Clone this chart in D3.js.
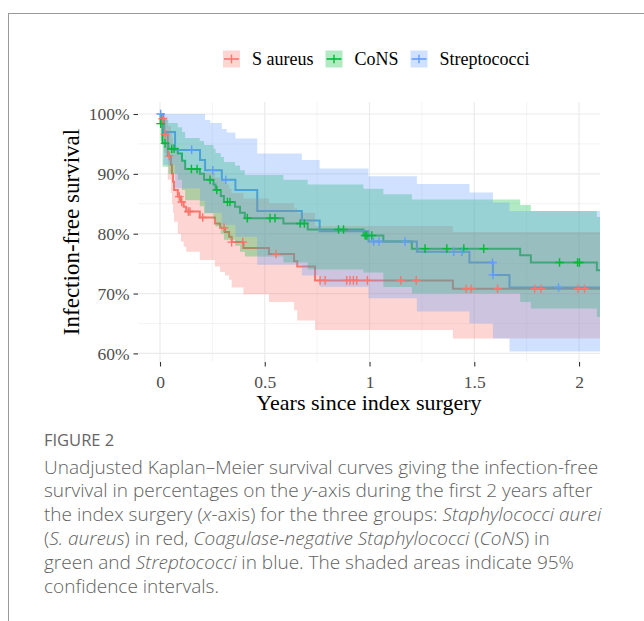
<!DOCTYPE html>
<html><head><meta charset="utf-8">
<script src="https://cdn.jsdelivr.net/npm/d3@7"></script>
<style>body{margin:0;background:#fff}</style>
</head><body>
<svg id="c" width="644" height="621" xmlns="http://www.w3.org/2000/svg"></svg>
<script>
// ---------------- DATA ----------------
const groups = ["S aureus", "CoNS", "Streptococci"];
const colors = ["#F8766D", "#00BA38", "#619CFF"];

// S aureus: step times, survival, upper and lower 95% CI
const saTime  = [0, 0.005, 0.02, 0.037, 0.052, 0.057, 0.062, 0.067, 0.085, 0.1, 0.113, 0.125, 0.19, 0.262, 0.287, 0.31, 0.33, 0.342, 0.398, 0.52, 0.64, 0.655, 0.74, 1.398];
const saSurv  = [1, 0.992, 0.966, 0.93, 0.915, 0.9, 0.887, 0.873, 0.862, 0.853, 0.845, 0.837, 0.827, 0.817, 0.81, 0.803, 0.795, 0.786, 0.776, 0.766, 0.754, 0.745, 0.722, 0.708];
const saUpper = [1, 1, 0.995, 0.98, 0.97, 0.96, 0.95, 0.94, 0.932, 0.925, 0.918, 0.91, 0.902, 0.894, 0.888, 0.882, 0.875, 0.868, 0.859, 0.851, 0.842, 0.835, 0.813, 0.803];
const saLower = [1, 0.975, 0.935, 0.89, 0.868, 0.85, 0.835, 0.82, 0.8, 0.787, 0.778, 0.77, 0.756, 0.745, 0.736, 0.73, 0.723, 0.71, 0.699, 0.686, 0.672, 0.655, 0.639, 0.625];
const saCensor = [0.013, 0.024, 0.044, 0.092, 0.104, 0.135, 0.143, 0.204, 0.306, 0.342, 0.395, 0.554, 0.764, 0.788, 0.891, 0.907, 0.923, 0.939, 0.99, 1.149, 1.223, 1.461, 1.485, 1.611, 1.788, 1.818, 1.995, 2.026];

// CoNS
const cnTime  = [0, 0.003, 0.012, 0.04, 0.085, 0.105, 0.12, 0.19, 0.21, 0.255, 0.265, 0.29, 0.305, 0.358, 0.382, 0.405, 0.589, 0.705, 0.971, 1.066, 1.202, 1.719, 1.77, 2.085];
const cnSurv  = [1, 0.984, 0.951, 0.942, 0.934, 0.922, 0.908, 0.9, 0.89, 0.882, 0.873, 0.863, 0.853, 0.845, 0.835, 0.826, 0.817, 0.807, 0.797, 0.787, 0.775, 0.764, 0.752, 0.739];
const cnUpper = [1, 1, 0.99, 0.985, 0.978, 0.97, 0.96, 0.955, 0.948, 0.942, 0.935, 0.928, 0.92, 0.914, 0.906, 0.898, 0.89, 0.882, 0.875, 0.866, 0.857, 0.848, 0.838, 0.828];
const cnLower = [1, 0.955, 0.912, 0.9, 0.89, 0.873, 0.856, 0.846, 0.834, 0.824, 0.812, 0.8, 0.79, 0.78, 0.77, 0.762, 0.752, 0.74, 0.735, 0.711, 0.7, 0.686, 0.675, 0.661];
const cnCensor = [0.003, 0.024, 0.056, 0.067, 0.15, 0.177, 0.239, 0.271, 0.322, 0.334, 0.417, 0.525, 0.549, 0.669, 0.689, 0.852, 0.876, 0.979, 0.987, 1.011, 1.265, 1.369, 1.45, 1.545, 1.907, 1.993, 2.002];

// Streptococci
const stTime  = [0, 0.016, 0.072, 0.191, 0.215, 0.24, 0.295, 0.318, 0.36, 0.464, 0.677, 0.762, 0.995, 1.226, 1.477, 1.589, 1.668];
const stSurv  = [1, 0.97, 0.94, 0.923, 0.906, 0.906, 0.89, 0.89, 0.873, 0.838, 0.822, 0.804, 0.787, 0.77, 0.752, 0.731, 0.71];
const stUpper = [1, 1, 1, 1, 0.99, 0.985, 0.975, 0.969, 0.959, 0.934, 0.923, 0.909, 0.896, 0.883, 0.869, 0.852, 0.838];
const stLower = [1, 0.915, 0.876, 0.855, 0.835, 0.835, 0.815, 0.815, 0.795, 0.748, 0.73, 0.7115, 0.692, 0.67, 0.65, 0.625, 0.603];
const stCensor = [0.003, 0.151, 0.252, 0.314, 1.02, 1.045, 1.17, 1.402, 1.441, 1.587, 1.589, 1.902];

const yTicks = [0.6, 0.7, 0.8, 0.9, 1.0];
const yMinor = [0.65, 0.75, 0.85, 0.95];
const xTicks = [0, 0.5, 1, 1.5, 2];
const xMinor = [0.25, 0.75, 1.25, 1.75];

// ---------------- CHART ----------------
const svg = d3.select("#c");
const serif = "'Liberation Serif', 'Times New Roman', serif";
const sans = "'Open Sans', 'Noto Sans', sans-serif";

const P = {left: 138, right: 600, top: 102, bottom: 362};
const x = d3.scaleLinear().domain([-0.105, 2.1]).range([P.left, P.right]);
const y = d3.scaleLinear().domain([0.6, 1]).range([353.4, 114]);

// frame of the figure (journal border)
svg.append("line").attr("x1", 8.5).attr("x2", 8.5).attr("y1", 13).attr("y2", 621).attr("stroke", "#9a9a9a").attr("stroke-width", 1);
svg.append("line").attr("x1", 8).attr("x2", 644).attr("y1", 13.5).attr("y2", 13.5).attr("stroke", "#9a9a9a").attr("stroke-width", 1);

// grid
const grid = svg.append("g");
grid.selectAll(".ymin").data(yMinor).join("line")
  .attr("x1", P.left).attr("x2", P.right).attr("y1", d => y(d)).attr("y2", d => y(d))
  .attr("stroke", "#EBEBEB").attr("stroke-width", 0.6);
grid.selectAll(".xmin").data(xMinor).join("line")
  .attr("y1", P.top).attr("y2", P.bottom).attr("x1", d => x(d)).attr("x2", d => x(d))
  .attr("stroke", "#EBEBEB").attr("stroke-width", 0.6);
grid.selectAll(".ymaj").data(yTicks).join("line")
  .attr("x1", P.left).attr("x2", P.right).attr("y1", d => y(d)).attr("y2", d => y(d))
  .attr("stroke", "#EBEBEB").attr("stroke-width", 1.2);
grid.selectAll(".xmaj").data(xTicks).join("line")
  .attr("y1", P.top).attr("y2", P.bottom).attr("x1", d => x(d)).attr("x2", d => x(d))
  .attr("stroke", "#EBEBEB").attr("stroke-width", 1.2);

// clip
svg.append("clipPath").attr("id", "clip").append("rect")
  .attr("x", P.left).attr("y", P.top).attr("width", P.right - P.left).attr("height", P.bottom - P.top);

const raw = [
  {time: saTime, surv: saSurv, up: saUpper, lo: saLower, cens: saCensor},
  {time: cnTime, surv: cnSurv, up: cnUpper, lo: cnLower, cens: cnCensor},
  {time: stTime, surv: stSurv, up: stUpper, lo: stLower, cens: stCensor}
];
const xEnd = x.domain()[1];
const series = raw.map((r, i) => {
  const rows = r.time.map((t, j) => ({t, s: r.surv[j], u: r.up[j], l: r.lo[j]}));
  const last = rows[rows.length - 1];
  rows.push({t: xEnd, s: last.s, u: last.u, l: last.l});
  const bis = d3.bisector(d => d.t).right;
  const cens = r.cens.map(c => ({t: c, s: rows[Math.max(0, bis(rows, c) - 1)].s}));
  return {name: groups[i], color: colors[i], rows, cens};
});

const plot = svg.append("g").attr("clip-path", "url(#clip)");
const line = d3.line().curve(d3.curveStepAfter).x(d => x(d.t)).y(d => y(d.s));
const area = d3.area().curve(d3.curveStepAfter).x(d => x(d.t)).y0(d => y(d.l)).y1(d => y(d.u));

plot.selectAll(".km").data(series).join("path")
  .attr("d", d => line(d.rows)).attr("fill", "none")
  .attr("stroke", d => d.color).attr("stroke-width", 2);
plot.selectAll(".ci").data(series).join("path")
  .attr("d", d => area(d.rows)).attr("fill", d => d.color).attr("fill-opacity", 0.3).attr("stroke", "none");

const cs = 4.3;
series.forEach(sr => {
  plot.append("g").selectAll("path").data(sr.cens).join("path")
    .attr("d", d => `M${x(d.t) - cs},${y(d.s)}h${2 * cs}M${x(d.t)},${y(d.s) - cs}v${2 * cs}`)
    .attr("stroke", sr.color).attr("stroke-width", 1.4).attr("fill", "none");
});

// axes
const yAxis = d3.axisLeft(y).tickValues(yTicks).tickFormat(d3.format(".0%")).tickSize(4.5).tickPadding(4);
const gy = svg.append("g").attr("transform", `translate(${P.left},0)`).call(yAxis);
gy.select(".domain").remove();
gy.selectAll("line").attr("stroke", "#333").attr("stroke-width", 1.1);
gy.selectAll("text").attr("font-family", serif).attr("font-size", 17.5).attr("fill", "#4D4D4D");

const xAxis = d3.axisBottom(x).tickValues(xTicks).tickFormat(d3.format("")).tickSize(4.5).tickPadding(9);
const gx = svg.append("g").attr("transform", `translate(0,${P.bottom})`).call(xAxis);
gx.select(".domain").remove();
gx.selectAll("line").attr("stroke", "#333").attr("stroke-width", 1.1);
gx.selectAll("text").attr("font-family", serif).attr("font-size", 17.5).attr("fill", "#4D4D4D");

// axis titles
svg.append("text").attr("x", (P.left + P.right) / 2).attr("y", 410).attr("text-anchor", "middle")
  .attr("font-family", serif).attr("font-size", 22).attr("fill", "#000").text("Years since index surgery");
svg.append("text").attr("transform", `translate(78.5,${(P.top + P.bottom) / 2}) rotate(-90)`).attr("text-anchor", "middle")
  .attr("font-family", serif).attr("font-size", 23).attr("fill", "#000").text("Infection-free survival");

// legend
const leg = svg.append("g");
let lx = 223;
const ly = 59;
series.forEach(sr => {
  const g = leg.append("g");
  g.append("rect").attr("x", lx).attr("y", ly - 8.5).attr("width", 17).attr("height", 17)
    .attr("fill", sr.color).attr("fill-opacity", 0.3);
  g.append("line").attr("x1", lx + 1).attr("x2", lx + 16).attr("y1", ly).attr("y2", ly)
    .attr("stroke", sr.color).attr("stroke-width", 1.6);
  g.append("line").attr("x1", lx + 8.5).attr("x2", lx + 8.5).attr("y1", ly - 4.3).attr("y2", ly + 4.3)
    .attr("stroke", sr.color).attr("stroke-width", 1.4);
  const t = g.append("text").attr("x", lx + 29).attr("y", ly + 6).attr("font-family", serif)
    .attr("font-size", 18).attr("fill", "#000").text(sr.name);
  lx = lx + 29 + t.node().getComputedTextLength() + 12;
});

// caption
const cap = svg.append("g").attr("font-family", sans).attr("fill", "#5f5f5f").attr("font-weight", 300);
cap.append("text").attr("x", 44).attr("y", 446).attr("font-size", 16.5).attr("font-weight", 400).attr("fill", "#666").text("FIGURE 2");
const capLines = [
  [["Unadjusted Kaplan\u2013Meier survival curves giving the infection-free", 0]],
  [["survival in percentages on the ", 0], ["y", 1], ["-axis during the first 2 years after", 0]],
  [["the index surgery (", 0], ["x", 1], ["-axis) for the three groups: ", 0], ["Staphylococci aurei", 1]],
  [["(", 0], ["S. aureus", 1], [") in red, ", 0], ["Coagulase-negative Staphylococci", 1], [" (", 0], ["CoNS", 1], [") in", 0]],
  [["green and ", 0], ["Streptococci", 1], [" in blue. The shaded areas indicate 95%", 0]],
  [["confidence intervals.", 0]]
];
capLines.forEach((ln, i) => {
  const t = cap.append("text").attr("x", 44).attr("y", 473.5 + i * 23.9).attr("font-size", 19);
  ln.forEach(([s, it]) => t.append("tspan").attr("font-style", it ? "italic" : "normal").text(s));
});
</script>
</body></html>
